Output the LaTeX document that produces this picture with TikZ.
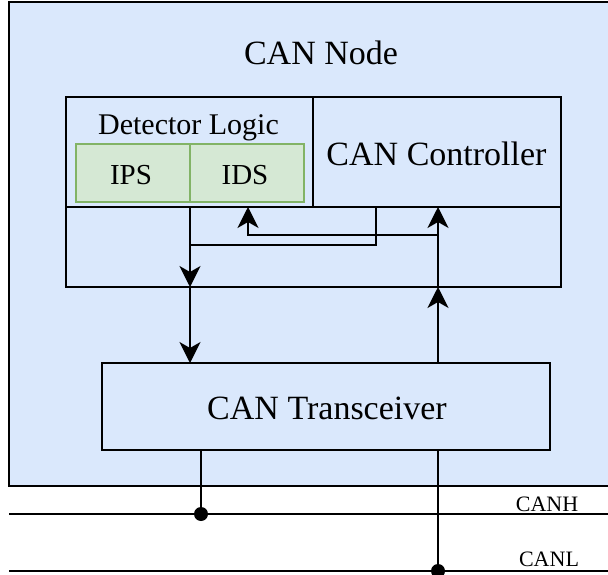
\documentclass[tikz,border=0pt]{standalone}
\usepackage{fontspec}
\setmainfont{Liberation Serif}
\usetikzlibrary{arrows.meta}
\definecolor{nodeblue}{HTML}{DAE8FC}
\definecolor{detgreen}{HTML}{D5E8D4}
\definecolor{detgreenline}{HTML}{82B366}

\begin{document}
\begin{tikzpicture}[x=1pt,y=-1pt,
  box/.style={draw=black, fill=nodeblue, line width=1.2pt, inner sep=0pt, outer sep=0pt, anchor=north west},
  gbox/.style={draw=detgreenline, fill=detgreen, line width=1.2pt, inner sep=0pt, outer sep=0pt, anchor=north west},
  lbl/.style={anchor=base, inner sep=0pt, font=\fontsize{34}{40}\selectfont},
  slbl/.style={anchor=base, inner sep=0pt, font=\fontsize{29}{34}\selectfont},
  buslbl/.style={anchor=base, inner sep=0pt, font=\fontsize{22}{26}\selectfont},
  wire/.style={line width=1.3pt},
  arr/.style={wire, -{Stealth[length=21pt,width=21pt,inset=6pt]}},
  dot/.style={circle, fill=black, inner sep=0pt, minimum size=14pt}
]
\useasboundingbox (0,0) rectangle (608,575);

% CAN node enclosure (runs off the right edge)
\node[box, minimum width=605, minimum height=484] (cannode) at (9,2) {};
\node[lbl] (cannodetxt) at (321,65) {CAN Node};

% inner block: detector logic, controller, interface strip
\node[box, minimum width=247, minimum height=110] (det) at (66,97) {};
\node[box, minimum width=248, minimum height=110] (ctrl) at (313,97) {};
\node[box, minimum width=495, minimum height=80] (strip) at (66,207) {};
\node[slbl, font=\fontsize{30}{34}\selectfont] (dettxt) at (188.5,135) {Detector Logic};
\node[lbl] (ctrltxt) at (436.5,165) {CAN Controller};

\node[gbox, minimum width=114, minimum height=58] (ips) at (76,144) {};
\node[gbox, minimum width=114, minimum height=58] (ids) at (190,144) {};
\node[slbl] (ipstxt) at (131,185) {IPS};
\node[slbl] (idstxt) at (245,185) {IDS};

% transceiver
\node[box, minimum width=448, minimum height=87] (trx) at (102,363) {};
\node[lbl] (trxtxt) at (327,419) {CAN Transceiver};

% routing points
\coordinate (dn) at (190,207);
\coordinate (ctrlout) at (376,207);
\coordinate (ctrlbend) at (376,245);
\coordinate (join) at (190,245);
\coordinate (up) at (438,287);
\coordinate (tap) at (438,235);
\coordinate (tapbend) at (248,235);
\coordinate (idsin) at (248,207);

% downward path: detector / controller to transceiver
\draw[arr] (dn) -- (dn |- strip.south);
\draw[arr] (dn |- strip.south) -- (dn |- trx.north);
\draw[wire] (ctrlout) -- (ctrlbend) -- (join);

% upward path: transceiver to controller and IDS
\draw[arr] (up |- trx.north) -- (up);
\draw[arr] (up) -- (up |- ctrl.south);
\draw[arr] (tap) -- (tapbend) -- (idsin);

% bus lines
\coordinate (hL) at (9,514);
\coordinate (hR) at (610,514);
\coordinate (lL) at (9,571);
\coordinate (lR) at (610,571);
\draw[wire] (hL) -- (hR);
\draw[wire] (lL) -- (lR);
\node[buslbl] (canhtxt) at (547,511) {CANH};
\node[buslbl] (canltxt) at (549,566) {CANL};

\node[dot] (hdot) at (201,514) {};
\node[dot] (ldot) at (438,571) {};
\draw[wire] (hdot |- trx.south) -- (hdot.center);
\draw[wire] (ldot |- trx.south) -- (ldot.center);
\end{tikzpicture}
\end{document}
